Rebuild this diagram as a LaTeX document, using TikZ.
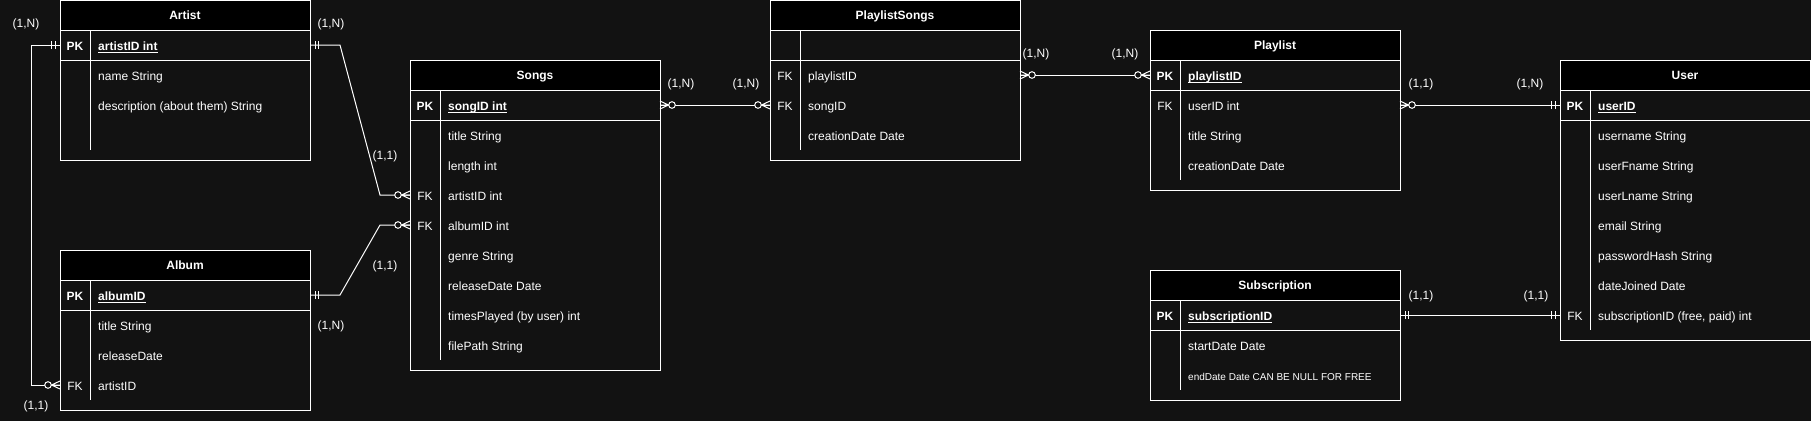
\documentclass[tikz,border=0pt]{standalone}
\usepackage{fontspec}
\setmainfont{Liberation Sans}
\usetikzlibrary{calc}
\definecolor{bg}{HTML}{121212}
\newcommand\fs{\fontsize{12}{14}\selectfont}
\newcommand\fss{\fontsize{10}{12}\selectfont}
\newsavebox\ulbox
\newcommand\ul[1]{\sbox\ulbox{#1}\rlap{\rule[-2pt]{\wd\ulbox}{0.8pt}}\usebox\ulbox}
% table frame: name, x, y, height, title, divider end y
\newcommand\frameent[6]{%
  \node[tbox,minimum height=#4pt,anchor=north west] (#1) at (#2,#3) {};
  \node[thead,anchor=north west] (#1H) at (#2,#3) {#5};
  \node[tpk,anchor=north west] (#1P) at (#2,#3+30) {};
  \draw[ln] (#2+30,#3+30) -- (#2+30,#6);
}
% attribute: node name, table x, y, text
\newcommand\attrib[4]{\node[attr] (#1) at (#2+38,#3) {#4};}
% key label: node name, table x, y, text
\newcommand\keyl[4]{\node[keylab] (#1) at (#2+15,#3) {#4};}
% markers
\newcommand\one[2]{\begin{scope}[shift={#1},xscale=#2]
  \draw[mk] (5,-4) -- (5,4) (8.3,-4) -- (8.3,4);\end{scope}}
\newcommand\zmany[2]{\begin{scope}[shift={#1},xscale=#2]
  \draw[mk] (0,-4) -- (8.5,0) -- (0,4) (0,0) -- (8.5,0);
  \draw[mk,fill=bg] (12,0) circle[radius=3.3pt];\end{scope}}
\begin{document}
\begin{tikzpicture}[x=1pt,y=-1pt,
  ln/.style={draw=white,line width=1pt},
  tbox/.style={ln,minimum width=250pt,inner sep=0pt,outer sep=0pt},
  thead/.style={ln,fill=black,minimum width=250pt,minimum height=30pt,inner sep=0pt,outer sep=0pt,text=white,font=\bfseries\fs,text height=9.6pt,text depth=0pt},
  tpk/.style={ln,minimum width=250pt,minimum height=30pt,inner sep=0pt,outer sep=0pt},
  attr/.style={anchor=west,inner sep=0pt,text=white,font=\fs,text height=10.6pt,text depth=0pt},
  keylab/.style={inner sep=0pt,text=white,font=\fs,text height=10.6pt,text depth=0pt},
  lbl/.style={inner sep=0pt,text=white,font=\fs},
  conn/.style={ln},
  mk/.style={ln}]
\fill[bg] (0,0) rectangle (1811,421);
\useasboundingbox (0,0) rectangle (1811,421);

% Artist
\frameent{artist}{60}{0}{160}{Artist}{150}
\keyl{artK0}{60}{45}{\bfseries PK}
\attrib{artA0}{60}{45}{\bfseries\ul{artistID int}}
\attrib{artA1}{60}{75}{name String}
\attrib{artA2}{60}{105}{description (about them) String}

% Songs
\frameent{songs}{410}{60}{310}{Songs}{360}
\keyl{songsK0}{410}{105}{\bfseries PK}
\attrib{songsA0}{410}{105}{\bfseries\ul{songID int}}
\attrib{songsA1}{410}{135}{title String}
\attrib{songsA2}{410}{165}{length int}
\keyl{songsK3}{410}{195}{FK}
\attrib{songsA3}{410}{195}{artistID int}
\keyl{songsK4}{410}{225}{FK}
\attrib{songsA4}{410}{225}{albumID int}
\attrib{songsA5}{410}{255}{genre String}
\attrib{songsA6}{410}{285}{releaseDate Date}
\attrib{songsA7}{410}{315}{timesPlayed (by user) int}
\attrib{songsA8}{410}{345}{filePath String}

% Album
\frameent{album}{60}{250}{160}{Album}{400}
\keyl{albK0}{60}{295}{\bfseries PK}
\attrib{albA0}{60}{295}{\bfseries\ul{albumID}}
\attrib{albA1}{60}{325}{title String}
\attrib{albA2}{60}{355}{releaseDate}
\keyl{albK3}{60}{385}{FK}
\attrib{albA3}{60}{385}{artistID}

% PlaylistSongs
\frameent{ps}{770}{0}{160}{PlaylistSongs}{150}
\keyl{psK1}{770}{75}{FK}
\attrib{psA1}{770}{75}{playlistID}
\keyl{psK2}{770}{105}{FK}
\attrib{psA2}{770}{105}{songID}
\attrib{psA3}{770}{135}{creationDate Date}

% Playlist
\frameent{pl}{1150}{30}{160}{Playlist}{180}
\keyl{plK0}{1150}{75}{\bfseries PK}
\attrib{plA0}{1150}{75}{\bfseries\ul{playlistID}}
\keyl{plK1}{1150}{105}{FK}
\attrib{plA1}{1150}{105}{userID int}
\attrib{plA2}{1150}{135}{title String}
\attrib{plA3}{1150}{165}{creationDate Date}

% User
\frameent{user}{1560}{60}{280}{User}{330}
\keyl{userK0}{1560}{105}{\bfseries PK}
\attrib{userA0}{1560}{105}{\bfseries\ul{userID}}
\attrib{userA1}{1560}{135}{username String}
\attrib{userA2}{1560}{165}{userFname String}
\attrib{userA3}{1560}{195}{userLname String}
\attrib{userA4}{1560}{225}{email String}
\attrib{userA5}{1560}{255}{passwordHash String}
\attrib{userA6}{1560}{285}{dateJoined Date}
\keyl{userK7}{1560}{315}{FK}
\attrib{userA7}{1560}{315}{subscriptionID (free, paid) int}

% Subscription
\frameent{sub}{1150}{270}{130}{Subscription}{390}
\keyl{subK0}{1150}{315}{\bfseries PK}
\attrib{subA0}{1150}{315}{\bfseries\ul{subscriptionID}}
\attrib{subA1}{1150}{345}{startDate Date}
\attrib{subA2}{1150}{375}{\fss endDate Date CAN BE NULL FOR FREE}

% connectors
\draw[conn] (artist.east |- artA0) -- ++(30,0) -- ($(songs.west |- songsA3)+(-30,0)$) -- (songs.west |- songsA3);
\draw[conn] (album.east |- albA0) -- ++(30,0) -- ($(songs.west |- songsA4)+(-30,0)$) -- (songs.west |- songsA4);
\draw[conn] (artist.west |- artA0) -- ++(-29,0) |- (album.west |- albA3);
\draw[conn] (songs.east |- songsA0) -- (ps.west |- psA2);
\draw[conn] (ps.east |- psA1) -- (pl.west |- plA0);
\draw[conn] (pl.east |- plA1) -- (user.west |- userA0);
\draw[conn] (sub.east |- subA0) -- (user.west |- userA7);

% markers
\one{(artist.east |- artA0)}{1}
\zmany{(songs.west |- songsA3)}{-1}
\one{(album.east |- albA0)}{1}
\zmany{(songs.west |- songsA4)}{-1}
\one{(artist.west |- artA0)}{-1}
\zmany{(album.west |- albA3)}{-1}
\zmany{(songs.east |- songsA0)}{1}
\zmany{(ps.west |- psA2)}{-1}
\zmany{(ps.east |- psA1)}{1}
\zmany{(pl.west |- plA0)}{-1}
\zmany{(pl.east |- plA1)}{1}
\one{(user.west |- userA0)}{-1}
\one{(sub.east |- subA0)}{1}
\one{(user.west |- userA7)}{-1}

% cardinality labels
\node[lbl] (l1) at (26,24) {(1,N)};
\node[lbl] (l2) at (331,24) {(1,N)};
\node[lbl] (l3) at (385,156) {(1,1)};
\node[lbl] (l4) at (385,266) {(1,1)};
\node[lbl] (l5) at (331,326) {(1,N)};
\node[lbl] (l6) at (36,406) {(1,1)};
\node[lbl] (l7) at (681,84) {(1,N)};
\node[lbl] (l8) at (746,84) {(1,N)};
\node[lbl] (l9) at (1036,54) {(1,N)};
\node[lbl] (l10) at (1125,54) {(1,N)};
\node[lbl] (l11) at (1421,84) {(1,1)};
\node[lbl] (l12) at (1530,84) {(1,N)};
\node[lbl] (l13) at (1421,296) {(1,1)};
\node[lbl] (l14) at (1536,296) {(1,1)};
\end{tikzpicture}
\end{document}
